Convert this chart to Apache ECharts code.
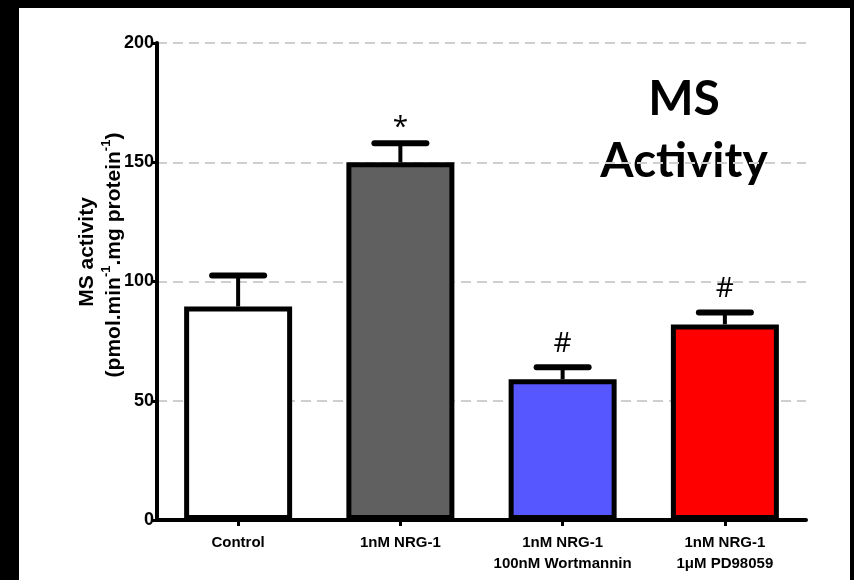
<!DOCTYPE html>
<html>
<head>
<meta charset="utf-8">
<script src="https://cdn.jsdelivr.net/npm/echarts@6/dist/echarts.min.js"></script>
<style>
  html, body { margin: 0; padding: 0; background: #000; }
  #frame { position: relative; width: 854px; height: 580px; background: #000; overflow: hidden; }
  #chart { position: absolute; left: 19px; top: 8px; width: 831px; height: 572px; background: #fff; }
</style>
</head>
<body>
<div id="frame"><div id="chart"></div></div>
<script>
// Methionine synthase activity per treatment group (mean ± SEM)
const categories = ['Control', '1nM NRG-1', '1nM NRG-1\n100nM Wortmannin', '1nM NRG-1\n1\u03bcM PD98059'];
const means = [89.5, 150, 59, 82];
const sem = [13, 8, 5, 5];
const marks = ['', '*', '#', '#'];
const barColors = ['#ffffff', '#606060', '#5757ff', '#ff0000'];
const yMin = 0, yMax = 200, yStep = 50;

const FONT = '"Liberation Sans Narrow", "Liberation Sans", Arial, sans-serif';
const TITLE_FONT = 'Lato, "Open Sans", sans-serif';
const chart = echarts.init(document.getElementById('chart'), null, { renderer: 'canvas' });

const option = {
  animation: false,
  backgroundColor: '#fff',
  grid: { left: 138, right: 44, top: 35, bottom: 60, containLabel: false },
  xAxis: {
    type: 'category',
    data: categories,
    axisLine: { lineStyle: { color: '#000', width: 4 } },
    axisTick: { show: true, alignWithLabel: true, length: 6, lineStyle: { color: '#000', width: 3 } },
    axisLabel: { color: '#000', fontFamily: FONT, fontWeight: 'bold', fontSize: 15, margin: 12, lineHeight: 21, interval: 0 },
    splitLine: { show: false }
  },
  yAxis: {
    type: 'value',
    min: yMin, max: yMax, interval: yStep,
    axisLine: { show: true, lineStyle: { color: '#000', width: 4 } },
    axisTick: { show: true, length: 5, lineStyle: { color: '#000', width: 3 } },
    axisLabel: { color: '#000', fontFamily: FONT, fontWeight: 'bold', fontSize: 18, margin: 3 },
    splitLine: { show: true, lineStyle: { color: '#cfcfcf', width: 2, type: [10, 6] } }
  },
  graphic: [
    {
      type: 'text', x: 87 - 19, y: 252 - 8, rotation: Math.PI / 2,
      style: { text: 'MS activity', font: 'bold 21px ' + FONT, fill: '#000', align: 'center', verticalAlign: 'middle' }
    },
    {
      type: 'text', x: 112 - 19, y: 255 - 8, rotation: Math.PI / 2,
      style: {
        text: '{n|(pmol.min}{s|-1}{n|.mg protein}{s|-1}{n|)}',
        align: 'center', verticalAlign: 'middle', fill: '#000',
        rich: {
          n: { fontFamily: FONT, fontWeight: 'bold', fontSize: 21, lineHeight: 25, verticalAlign: 'bottom', fill: '#000' },
          s: { fontFamily: FONT, fontWeight: 'bold', fontSize: 13, lineHeight: 25, verticalAlign: 'top', fill: '#000' }
        }
      }
    },
    {
      type: 'text', x: 684 - 19, y: 100 - 8,
      style: { text: 'MS', font: 'bold 48px ' + TITLE_FONT, fill: '#000', align: 'center', verticalAlign: 'middle' }
    },
    {
      type: 'text', x: 684 - 19, y: 162 - 8,
      style: { text: 'Activity', font: 'bold 48px ' + TITLE_FONT, fill: '#000', align: 'center', verticalAlign: 'middle' }
    }
  ],
  series: [
    {
      type: 'bar',
      data: means.map((v, i) => ({ value: v, itemStyle: { color: barColors[i] } })),
      barWidth: 108,
      itemStyle: { borderColor: '#000', borderWidth: 5 },
      z: 2
    },
    {
      type: 'custom',
      z: 3,
      data: means.map((v, i) => [i, v, sem[i]]),
      renderItem: function (params, api) {
        const i = api.value(0);
        const top = api.coord([i, api.value(1) + api.value(2)]);
        const base = api.coord([i, api.value(1)]);
        const half = 26;
        const children = [
          { type: 'line', shape: { x1: base[0], y1: base[1], x2: top[0], y2: top[1] }, style: { stroke: '#000', lineWidth: 4 } },
          { type: 'line', shape: { x1: top[0] - half, y1: top[1], x2: top[0] + half, y2: top[1] }, style: { stroke: '#000', lineWidth: 6, lineCap: 'round' } }
        ];
        const m = marks[params.dataIndex];
        if (m) {
          children.push({
            type: 'text',
            x: top[0], y: top[1] - (m === '*' ? 1 : 9),
            style: { text: m, font: '28px "Open Sans", Lato, sans-serif', fill: '#000', align: 'center', verticalAlign: 'bottom' }
          });
        }
        return { type: 'group', children: children };
      }
    }
  ]
};
chart.setOption(option);
</script>
</body>
</html>
